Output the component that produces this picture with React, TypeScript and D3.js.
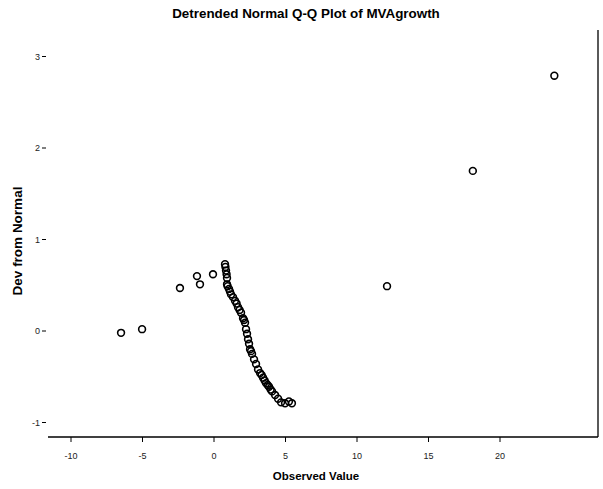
import * as d3 from 'd3';

const observed = [
  -6.5, -5.03, -2.38, -1.19, -0.98, -0.07,
  0.77, 0.8, 0.84, 0.88, 0.91, 0.91, 0.95, 1.05, 1.12, 1.19, 1.33, 1.47, 1.58, 1.68, 1.79, 1.89,
  2.03, 2.1, 2.17, 2.24, 2.31, 2.38, 2.45, 2.52, 2.59, 2.66, 2.8, 2.94, 3.08, 3.22, 3.33, 3.43,
  3.54, 3.64, 3.75, 3.85, 3.96, 4.06, 4.27, 4.48, 4.69, 4.97, 5.24, 5.45,
  12.1, 18.1, 23.8,
];
const deviation = [
  -0.02, 0.02, 0.47, 0.6, 0.51, 0.62,
  0.73, 0.7, 0.66, 0.62, 0.58, 0.51, 0.49, 0.46, 0.43, 0.4, 0.37, 0.33, 0.3, 0.26, 0.23, 0.2,
  0.14, 0.12, 0.09, 0.02, -0.03, -0.09, -0.14, -0.2, -0.22, -0.25, -0.31, -0.36, -0.42, -0.46, -0.48, -0.51,
  -0.54, -0.57, -0.59, -0.61, -0.64, -0.66, -0.7, -0.74, -0.78, -0.79, -0.77, -0.79,
  0.49, 1.75, 2.79,
];
const xTicks = [-10, -5, 0, 5, 10, 15, 20];
const yTicks = [-1, 0, 1, 2, 3];

const title = 'Detrended Normal Q-Q Plot of MVAgrowth';
const xLabel = 'Observed Value';
const yLabel = 'Dev from Normal';

const W = 603;
const H = 489;
const font = "'Liberation Sans', Arial, sans-serif";

export default function App() {
  const x = d3.scaleLinear().domain([-10, 20]).range([71, 500]);
  const y = d3.scaleLinear().domain([-1, 3]).range([422.5, 56.5]);

  const axisY = 437;
  const plotLeft = 48;
  const plotRight = 598;

  return (
    <svg
      width={W}
      height={H}
      style={{ position: 'absolute', left: 0, top: 0, background: '#fff' }}
      fontFamily={font}
    >
      <text x={306} y={18} textAnchor="middle" fontSize={13.4} fontWeight="bold">
        {title}
      </text>

      {/* frame: bottom axis and right edge */}
      <line x1={plotLeft} x2={plotRight} y1={axisY} y2={axisY} stroke="#000" strokeWidth={1.3} />
      <line x1={plotRight} x2={plotRight} y1={30} y2={axisY} stroke="#000" strokeWidth={1.3} />

      {xTicks.map((t) => (
        <g key={t} transform={`translate(${x(t)},${axisY})`}>
          <line y1={0} y2={5} stroke="#000" strokeWidth={1} />
          <text y={22} textAnchor="middle" fontSize={9} fill="#222">
            {t}
          </text>
        </g>
      ))}

      {yTicks.map((t) => (
        <g key={t} transform={`translate(40,${y(t)})`}>
          <text x={0} y={3} textAnchor="end" fontSize={9} fill="#222">
            {t}
          </text>
          <line x1={2} x2={6} stroke="#000" strokeWidth={1} />
        </g>
      ))}

      <text x={316} y={480} textAnchor="middle" fontSize={11.5} fontWeight="bold">
        {xLabel}
      </text>
      <text
        transform={`translate(22,241) rotate(-90)`}
        textAnchor="middle"
        fontSize={13.5}
        fontWeight="bold"
      >
        {yLabel}
      </text>

      {observed.map((v, i) => (
        <circle
          key={i}
          cx={x(v)}
          cy={y(deviation[i])}
          r={3.4}
          fill="none"
          stroke="#000"
          strokeWidth={1.6}
        />
      ))}
    </svg>
  );
}
